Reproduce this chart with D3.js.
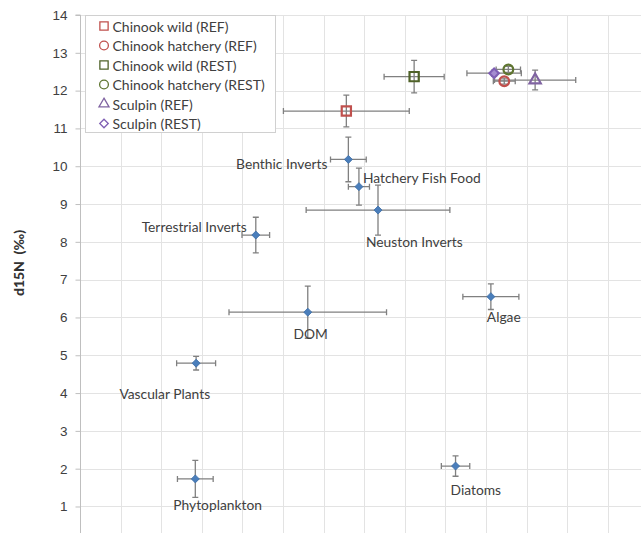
<!DOCTYPE html>
<html>
<head>
<meta charset="utf-8">
<script src="https://cdn.jsdelivr.net/npm/d3@7"></script>
<style>
  body { margin: 0; background: #fff; }
  svg { display: block; font-family: Lato, "Open Sans", sans-serif; }
</style>
</head>
<body>
<div id="chart"></div>
<script>
// food-web sources (blue diamonds)
const sourceNames = ["Benthic Inverts", "Hatchery Fish Food", "Neuston Inverts", "Terrestrial Inverts",
  "DOM", "Algae", "Vascular Plants", "Phytoplankton", "Diatoms"];
const sourceX = [-25.39, -25.13, -24.66, -27.67, -26.39, -21.88, -29.14, -29.16, -22.75];
const sourceY = [10.18, 9.46, 8.84, 8.18, 6.14, 6.55, 4.79, 1.73, 2.07];
const sourceXErr = [0.44, 0.26, 1.77, 0.34, 1.94, 0.69, 0.48, 0.44, 0.35];
const sourceYErr = [0.59, 0.49, 0.66, 0.47, 0.69, 0.34, 0.18, 0.49, 0.27];

// consumers (legend series)
const fishNames = ["Chinook wild (REF)", "Chinook hatchery (REF)", "Chinook wild (REST)",
  "Chinook hatchery (REST)", "Sculpin (REF)", "Sculpin (REST)"];
const fishX = [-25.44, -21.55, -23.77, -21.45, -20.79, -21.80];
const fishY = [11.46, 12.25, 12.37, 12.56, 12.28, 12.46];
const fishXErr = [1.55, 0.27, 0.74, 0.30, 1.0, 0.67];
const fishYErr = [0.42, 0.08, 0.43, 0.08, 0.26, 0.08];

const yTicks = [1, 2, 3, 4, 5, 6, 7, 8, 9, 10, 11, 12, 13, 14];

// styling for series + label placement
const fishColors = ["#c0504d", "#c0504d", "#4f6228", "#5f7530", "#8064a2", "#7f5fb4"];
const fishShapes = [d3.symbolSquare, d3.symbolCircle, d3.symbolSquare, d3.symbolCircle, d3.symbolTriangle, "diamond"];
const labelAnchor = ["end", "start", "start", "end", "middle", "start", "end", "start", "start"];
const labelDx = [-21, 4, -12, -9, 3, -4, 14, -22, -5];
const labelDy = [4, -9, 31, -9, 21, 20, 30, 26, 23];

const width = 641, height = 533;
const plotLeft = 80, plotTop = 15;

const x = d3.scaleLinear().domain([-32, -17]).range([plotLeft, plotLeft + 15 * 40.6]);
const y = d3.scaleLinear().domain([0, 14]).range([544.3, plotTop]);

const svg = d3.select("#chart").append("svg")
  .attr("width", width).attr("height", height);

// grid
const grid = svg.append("g").attr("stroke", "#e3e3e3").attr("stroke-width", 1);
grid.selectAll("line.h").data(yTicks).enter().append("line")
  .attr("x1", plotLeft).attr("x2", x(-17))
  .attr("y1", d => Math.round(y(d)) + 0.5).attr("y2", d => Math.round(y(d)) + 0.5);
grid.selectAll("line.v").data(d3.range(-31, -16)).enter().append("line")
  .attr("y1", y(14)).attr("y2", y(0))
  .attr("x1", d => Math.round(x(d)) + 0.5).attr("x2", d => Math.round(x(d)) + 0.5);

// y axis
const yAxis = d3.axisLeft(y).tickValues(yTicks).tickSize(5).tickPadding(8);
const gy = svg.append("g").attr("transform", `translate(${plotLeft + 0.5},0)`).call(yAxis);
gy.select(".domain").attr("stroke", "#bfbfbf").attr("d", `M-5,${y(14)}H0V${y(0)}`);
gy.selectAll(".tick line").attr("stroke", "#bfbfbf");
gy.selectAll(".tick text").attr("fill", "#404040").style("font-size", "13.5px");

svg.append("text")
  .attr("transform", `translate(24,263) rotate(-90)`)
  .attr("text-anchor", "middle")
  .attr("fill", "#333")
  .style("font-size", "14px").style("font-weight", "900")
  .style("white-space", "pre")
  .text("d15N  (‰)");

// error bars
function errorBars(g, xs, ys, xe, ye) {
  const eb = g.append("g").attr("stroke", "#808080").attr("stroke-width", 1.3).attr("fill", "none");
  xs.forEach((xv, i) => {
    const cx = x(xv), cy = y(ys[i]);
    const x0 = x(xv - xe[i]), x1 = x(xv + xe[i]);
    const y0 = y(ys[i] + ye[i]), y1 = y(ys[i] - ye[i]);
    eb.append("path").attr("d",
      `M${x0},${cy}H${x1}M${x0},${cy - 3}V${cy + 3}M${x1},${cy - 3}V${cy + 3}` +
      `M${cx},${y0}V${y1}M${cx - 3},${y0}H${cx + 3}M${cx - 3},${y1}H${cx + 3}`);
  });
}

errorBars(svg, sourceX, sourceY, sourceXErr, sourceYErr);
errorBars(svg, fishX, fishY, fishXErr, fishYErr);

// source markers
svg.append("g").selectAll("path").data(sourceX).enter().append("path")
  .attr("d", d3.symbol().type(d3.symbolSquare).size(32))
  .attr("transform", (d, i) => `translate(${x(d)},${y(sourceY[i])}) rotate(45)`)
  .attr("fill", "#4a7ebb").attr("stroke", "#3f6fa8").attr("stroke-width", 0.8);

// source labels
svg.append("g").selectAll("text").data(sourceNames).enter().append("text")
  .attr("x", (d, i) => x(sourceX[i]) + labelDx[i])
  .attr("y", (d, i) => y(sourceY[i]) + labelDy[i])
  .attr("text-anchor", (d, i) => labelAnchor[i])
  .attr("dominant-baseline", "central")
  .attr("fill", "#404040")
  .style("font-size", "13.8px")
  .text(d => d);

function marker(sel, shape, color, big) {
  const s = big ? 1 : 0.8;
  if (shape === "diamond") {
    sel.append("path").attr("d", d3.symbol().type(d3.symbolSquare).size(45 * s))
      .attr("transform", "rotate(45)")
      .attr("fill", big ? "#a58cd0" : "none").attr("stroke", color).attr("stroke-width", big ? 2.2 : 1.3);
  } else {
    const size = shape === d3.symbolTriangle ? 55 : shape === d3.symbolCircle ? 75 : 85;
    sel.append("path").attr("d", d3.symbol().type(shape).size(size * s))
      .attr("fill", "none").attr("stroke", color).attr("stroke-width", big ? 2.2 : 1.3);
  }
}

// consumer markers
fishX.forEach((xv, i) => {
  const g = svg.append("g").attr("transform", `translate(${x(xv)},${y(fishY[i])})`);
  marker(g, fishShapes[i], fishColors[i], true);
});

// legend
const legend = svg.append("g").attr("transform", "translate(85.5,15.5)");
legend.append("rect").attr("width", 190).attr("height", 117)
  .attr("fill", "#fff").attr("stroke", "#d0d0d0");
fishNames.forEach((name, i) => {
  const row = legend.append("g").attr("transform", `translate(0,${10.5 + i * 19.5})`);
  const m = row.append("g").attr("transform", "translate(18.5,0)");
  marker(m, fishShapes[i], fishColors[i], false);
  row.append("text").attr("x", 27).attr("dominant-baseline", "central")
    .attr("fill", "#404040").style("font-size", "14px").text(name);
});
</script>
</body>
</html>
